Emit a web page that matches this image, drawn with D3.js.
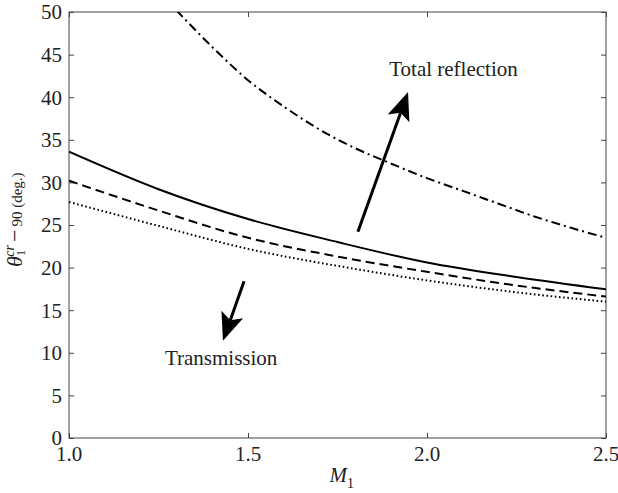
<!DOCTYPE html>
<html>
<head>
<meta charset="utf-8">
<script src="https://cdn.jsdelivr.net/npm/d3@7/dist/d3.min.js"></script>
<style>
  html, body { margin: 0; padding: 0; background: #fff; }
  svg { display: block; }
  text { font-family: "Liberation Serif", "Times New Roman", "DejaVu Serif", serif; fill: #222; }
</style>
</head>
<body>
<svg id="chart" width="618" height="493"></svg>
<script>
// Mach number grid for the three lower curves
const machGrid = [1.0, 1.25, 1.5, 1.75, 2.0, 2.25, 2.5];
const solidCurve  = [33.6, 29.2, 25.7, 23.0, 20.6, 18.9, 17.45];
const dashedCurve = [30.2, 26.7, 23.5, 21.3, 19.5, 17.9, 16.6];
const dottedCurve = [27.7, 24.9, 22.2, 20.2, 18.5, 17.1, 16.0];

// Dash-dot curve (enters from the top of the frame)
const machDashDot = [1.3, 1.4, 1.5, 1.6, 1.7, 1.8, 1.9, 2.0, 2.1, 2.2, 2.3, 2.4, 2.5];
const dashDotCurve = [50.2, 45.9, 42.0, 38.9, 36.2, 34.0, 32.2, 30.5, 29.0, 27.5, 26.0, 24.7, 23.5];

// Axis ticks
const xTicks = [1.0, 1.5, 2.0, 2.5];
const xTickLabels = ["1.0", "1.5", "2.0", "2.5"];
const yTicks = [0, 5, 10, 15, 20, 25, 30, 35, 40, 45, 50];

// Annotation arrows in data units: [M_tail, theta_tail, M_tip, theta_tip]
const arrowReflection = [1.807, 24.2, 1.947, 40.6];
const arrowTransmission = [1.489, 18.4, 1.430, 11.4];
const labelReflection = { text: "Total reflection", m: 2.074, theta: 42.5 };
const labelTransmission = { text: "Transmission", m: 1.425, theta: 8.55 };

const svg = d3.select("#chart");
const margin = { left: 69, right: 12, top: 12, bottom: 55 };
const W = 618, H = 493;

const x = d3.scaleLinear().domain([1.0, 2.5]).range([margin.left, W - margin.right]);
const y = d3.scaleLinear().domain([0, 50]).range([H - margin.bottom, margin.top]);

const x0 = x.range()[0], x1 = x.range()[1];
const y0 = y.range()[0], y1 = y.range()[1];

svg.append("clipPath").attr("id", "plotClip")
  .append("rect").attr("x", x0).attr("y", y1).attr("width", x1 - x0).attr("height", y0 - y1);

// Frame
svg.append("rect")
  .attr("x", x0).attr("y", y1).attr("width", x1 - x0).attr("height", y0 - y1)
  .attr("fill", "none").attr("stroke", "#444").attr("stroke-width", 1);

// Inward ticks on all four sides
const tickLen = 5;
const axisStyle = g => {
  g.select(".domain").remove();
  g.selectAll(".tick line").attr("stroke", "#444");
};
svg.append("g").attr("transform", `translate(0,${y0})`)
  .call(d3.axisBottom(x).tickValues(xTicks).tickSize(-tickLen).tickFormat(""))
  .call(axisStyle);
svg.append("g").attr("transform", `translate(0,${y1})`)
  .call(d3.axisTop(x).tickValues(xTicks).tickSize(-tickLen).tickFormat(""))
  .call(axisStyle);
svg.append("g").attr("transform", `translate(${x0},0)`)
  .call(d3.axisLeft(y).tickValues(yTicks).tickSize(-tickLen).tickFormat(""))
  .call(axisStyle);
svg.append("g").attr("transform", `translate(${x1},0)`)
  .call(d3.axisRight(y).tickValues(yTicks).tickSize(-tickLen).tickFormat(""))
  .call(axisStyle);

// Tick labels
svg.append("g").selectAll("text").data(yTicks).join("text")
  .attr("x", x0 - 7).attr("y", d => y(d))
  .attr("dy", "0.35em")
  .attr("text-anchor", "end")
  .attr("font-size", 21)
  .text(d => d);
svg.append("g").selectAll("text").data(xTicks).join("text")
  .attr("x", d => x(d)).attr("y", y0 + 23)
  .attr("text-anchor", "middle")
  .attr("font-size", 21)
  .text((d, i) => xTickLabels[i]);

// Axis titles
const xTitle = svg.append("text")
  .attr("x", (x0 + x1) / 2 - 8).attr("y", 482)
  .attr("font-size", 21);
xTitle.append("tspan").attr("font-style", "italic").text("M");
xTitle.append("tspan").attr("font-size", 14).attr("dy", 6).text("1");

const yTitle = svg.append("text")
  .attr("transform", "translate(22,267) rotate(-90)")
  .attr("font-size", 22);
yTitle.append("tspan").attr("font-style", "italic").text("θ");
yTitle.append("tspan").attr("font-size", 13).attr("dy", 3).text("1");
yTitle.append("tspan").attr("font-size", 14).attr("font-style", "italic").attr("dx", -7).attr("dy", -11).text("cr");
yTitle.append("tspan").attr("font-size", 22).attr("dy", 8).attr("dx", 3).text("−");
yTitle.append("tspan").attr("font-size", 15).attr("dx", 3).text("90 (deg.)");

// Curves
const line = d3.line().x(d => x(d[0])).y(d => y(d[1])).curve(d3.curveMonotoneX);
const plot = svg.append("g").attr("clip-path", "url(#plotClip)");

const series = [
  { m: machGrid, v: solidCurve, dash: null },
  { m: machGrid, v: dashedCurve, dash: "9,5" },
  { m: machGrid, v: dottedCurve, dash: "1.6,2.6" },
  { m: machDashDot, v: dashDotCurve, dash: "9,4,2,4" }
];
series.forEach(s => {
  plot.append("path")
    .datum(s.m.map((m, i) => [m, s.v[i]]))
    .attr("d", line)
    .attr("fill", "none")
    .attr("stroke", "#000")
    .attr("stroke-width", 2)
    .attr("stroke-dasharray", s.dash);
});

// Arrows
function drawArrow(a) {
  const tx = x(a[0]), ty = y(a[1]), hx = x(a[2]), hy = y(a[3]);
  const len = Math.hypot(hx - tx, hy - ty);
  const ux = (hx - tx) / len, uy = (hy - ty) / len;
  const px = -uy, py = ux;
  const headLen = 28, halfW = 11.5, notch = 22;
  const bx = hx - ux * headLen, by = hy - uy * headLen;
  const nx = hx - ux * notch, ny = hy - uy * notch;
  svg.append("line")
    .attr("x1", tx).attr("y1", ty).attr("x2", nx).attr("y2", ny)
    .attr("stroke", "#000").attr("stroke-width", 3);
  svg.append("path")
    .attr("d", `M${hx},${hy} L${bx + px * halfW},${by + py * halfW} L${nx},${ny} L${bx - px * halfW},${by - py * halfW} Z`)
    .attr("fill", "#000");
}
drawArrow(arrowReflection);
drawArrow(arrowTransmission);

[labelReflection, labelTransmission].forEach(l => {
  svg.append("text")
    .attr("x", x(l.m)).attr("y", y(l.theta))
    .attr("text-anchor", "middle")
    .attr("font-size", 21)
    .text(l.text);
});
</script>
</body>
</html>
